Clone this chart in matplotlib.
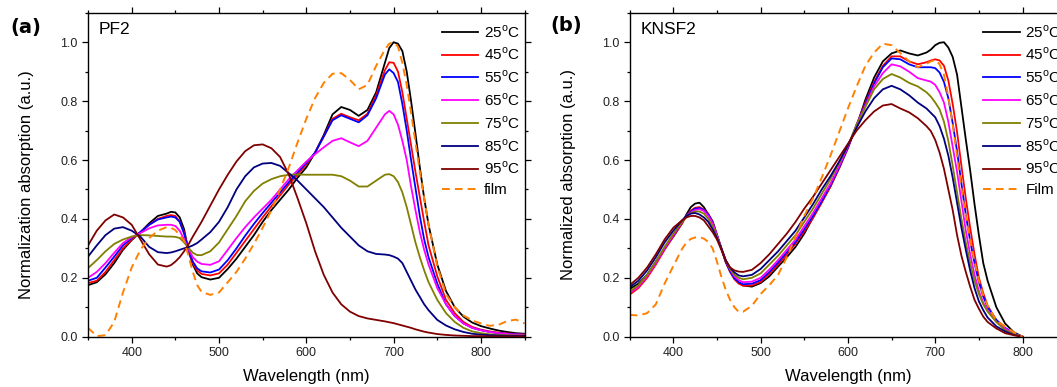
import numpy as np
import matplotlib
matplotlib.use("Agg")
import matplotlib.pyplot as plt
from matplotlib.ticker import MultipleLocator, FormatStrFormatter

plt.rcParams['font.family'] = ['Liberation Sans', 'DejaVu Sans']
plt.rcParams['mathtext.fontset'] = 'custom'
plt.rcParams['mathtext.rm'] = 'Liberation Sans'

# ---- data (finer steps around the sharp features) ----
wl_pf2 = [350, 360, 370, 380, 390, 400, 410, 420, 430, 440,
          445, 450, 455, 460, 465, 470, 475, 480,
          490, 500, 510, 520, 530, 540, 550, 560, 570, 580, 590, 600,
          610, 620, 630, 640, 650, 660, 670, 680, 690,
          695, 700, 705, 710, 715, 720, 725, 730, 735, 740,
          750, 760, 770, 780, 790, 800, 810, 820, 830, 840, 850]

wl_knsf2 = [350, 360, 370, 380, 390, 400, 410,
            415, 420, 425, 430, 435, 440, 445, 450, 455, 460, 465, 470, 475, 480,
            490, 500, 510, 520, 530, 540, 550, 560, 570, 580, 590, 600,
            610, 620, 630, 640, 650, 660, 670, 680, 690,
            695, 700, 705, 710, 715, 720, 725, 730, 735, 740, 745, 750, 755,
            760, 770, 780, 790, 800]

temps = ['25', '45', '55', '65', '75', '85', '95']

pf2_25 = [0.175, 0.185, 0.212, 0.25, 0.295, 0.328, 0.355, 0.385, 0.41, 0.418,
          0.424, 0.422, 0.405, 0.365, 0.292, 0.245, 0.215, 0.202,
          0.194, 0.2, 0.23, 0.265, 0.305, 0.345, 0.39, 0.43, 0.465, 0.5, 0.54, 0.575,
          0.625, 0.685, 0.755, 0.78, 0.77, 0.75, 0.77, 0.83, 0.93,
          0.98, 1.0, 0.995, 0.97, 0.9, 0.8, 0.69, 0.575, 0.47, 0.38,
          0.245, 0.155, 0.1, 0.068, 0.048, 0.036, 0.028, 0.021, 0.016, 0.012, 0.01]
pf2_45 = [0.182, 0.19, 0.22, 0.26, 0.3, 0.33, 0.355, 0.38, 0.4, 0.41,
          0.413, 0.41, 0.39, 0.355, 0.295, 0.25, 0.225, 0.213,
          0.208, 0.215, 0.245, 0.285, 0.325, 0.365, 0.405, 0.443, 0.48, 0.517, 0.55, 0.585,
          0.625, 0.68, 0.74, 0.757, 0.745, 0.735, 0.757, 0.82, 0.905,
          0.932, 0.93, 0.9, 0.83, 0.74, 0.65, 0.56, 0.475, 0.39, 0.31,
          0.205, 0.125, 0.08, 0.05, 0.033, 0.024, 0.018, 0.014, 0.011, 0.009, 0.008]
pf2_55 = [0.19, 0.2, 0.235, 0.272, 0.31, 0.335, 0.355, 0.38, 0.398, 0.405,
          0.408, 0.405, 0.39, 0.35, 0.296, 0.255, 0.232, 0.222,
          0.218, 0.228, 0.26, 0.3, 0.343, 0.383, 0.42, 0.455, 0.49, 0.525, 0.558, 0.59,
          0.625, 0.68, 0.735, 0.752, 0.74, 0.728, 0.752, 0.81, 0.89,
          0.908, 0.895, 0.865, 0.79, 0.7, 0.6, 0.505, 0.41, 0.33, 0.27,
          0.18, 0.11, 0.07, 0.045, 0.03, 0.022, 0.016, 0.012, 0.01, 0.008, 0.007]
pf2_65 = [0.2, 0.22, 0.25, 0.285, 0.318, 0.338, 0.352, 0.368, 0.378, 0.38,
          0.38, 0.376, 0.36, 0.33, 0.298, 0.27, 0.255, 0.247,
          0.244, 0.256, 0.295, 0.335, 0.372, 0.405, 0.435, 0.465, 0.5, 0.535, 0.565, 0.595,
          0.62, 0.643, 0.665, 0.674, 0.66, 0.647, 0.665, 0.71, 0.755,
          0.767, 0.755, 0.72, 0.665, 0.6, 0.51, 0.43, 0.355, 0.295, 0.245,
          0.165, 0.11, 0.07, 0.045, 0.03, 0.022, 0.016, 0.012, 0.009, 0.007, 0.006]
pf2_75 = [0.233, 0.26, 0.29, 0.315, 0.33, 0.34, 0.345, 0.344, 0.342, 0.34,
          0.34, 0.339, 0.335, 0.32, 0.302, 0.285, 0.277, 0.277,
          0.29, 0.32, 0.365, 0.41, 0.46, 0.495, 0.52, 0.535, 0.545, 0.55, 0.551, 0.55,
          0.55, 0.55, 0.55, 0.545, 0.53, 0.51, 0.51, 0.53, 0.55,
          0.552, 0.545, 0.525, 0.49, 0.44, 0.38, 0.32, 0.27, 0.225, 0.185,
          0.125, 0.08, 0.05, 0.03, 0.018, 0.012, 0.008, 0.006, 0.005, 0.004, 0.004]
pf2_85 = [0.272, 0.31, 0.345, 0.367, 0.372, 0.36, 0.34, 0.305, 0.287, 0.284,
          0.286, 0.29, 0.295, 0.3, 0.304, 0.31, 0.318, 0.33,
          0.355, 0.39, 0.44, 0.5, 0.545, 0.575, 0.588, 0.59, 0.58, 0.555, 0.53, 0.5,
          0.47, 0.44, 0.405, 0.37, 0.34, 0.31, 0.29, 0.281, 0.279,
          0.277, 0.272, 0.265, 0.25, 0.22, 0.19, 0.16, 0.135, 0.11, 0.09,
          0.057, 0.038, 0.025, 0.016, 0.01, 0.007, 0.005, 0.004, 0.003, 0.003, 0.003]
pf2_95 = [0.31, 0.36, 0.395, 0.415, 0.405, 0.38, 0.33, 0.28, 0.245, 0.238,
          0.243, 0.255, 0.27, 0.29, 0.313, 0.34, 0.365, 0.39,
          0.445, 0.5, 0.55, 0.595, 0.63, 0.65, 0.653, 0.64, 0.61, 0.55, 0.47, 0.385,
          0.29, 0.21, 0.15, 0.11, 0.085, 0.07, 0.062, 0.057, 0.052,
          0.049, 0.046, 0.042, 0.038, 0.034, 0.03, 0.025, 0.021, 0.017, 0.014,
          0.009, 0.006, 0.004, 0.003, 0.002, 0.002, 0.001, 0.001, 0.001, 0.001, 0.001]
pf2_film = [0.03, 0.002, 0.005, 0.05, 0.15, 0.235, 0.295, 0.335, 0.36, 0.372,
            0.37, 0.362, 0.345, 0.325, 0.275, 0.22, 0.175, 0.152,
            0.142, 0.15, 0.185, 0.22, 0.265, 0.315, 0.37, 0.43, 0.5, 0.575, 0.66, 0.74,
            0.81, 0.862, 0.893, 0.895, 0.872, 0.84, 0.855, 0.92, 0.975,
            0.995, 1.0, 0.985, 0.93, 0.855, 0.76, 0.66, 0.56, 0.47, 0.38,
            0.24, 0.145, 0.1, 0.072, 0.055, 0.045, 0.037, 0.04, 0.053, 0.058, 0.045]

knsf2_25 = [0.162, 0.18, 0.21, 0.255, 0.3, 0.34, 0.385,
            0.415, 0.44, 0.452, 0.455, 0.44, 0.415, 0.392, 0.345, 0.3, 0.255, 0.225, 0.2, 0.183, 0.174,
            0.17, 0.182, 0.205, 0.238, 0.27, 0.305, 0.35, 0.405, 0.458, 0.51, 0.575, 0.645,
            0.715, 0.805, 0.88, 0.935, 0.962, 0.972, 0.962, 0.955, 0.965,
            0.975, 0.99, 0.998, 1.0, 0.982, 0.95, 0.89, 0.78, 0.67, 0.565, 0.45, 0.345, 0.25,
            0.19, 0.1, 0.045, 0.015, 0.0]
knsf2_45 = [0.143, 0.165, 0.2, 0.245, 0.295, 0.34, 0.385,
            0.41, 0.428, 0.438, 0.44, 0.432, 0.418, 0.39, 0.345, 0.3, 0.253, 0.22, 0.195, 0.18, 0.173,
            0.174, 0.186, 0.213, 0.245, 0.28, 0.316, 0.358, 0.403, 0.455, 0.51, 0.572, 0.64,
            0.72, 0.795, 0.865, 0.92, 0.952, 0.952, 0.935, 0.925, 0.932,
            0.938, 0.942, 0.938, 0.92, 0.87, 0.79, 0.695, 0.58, 0.47, 0.37, 0.28, 0.2, 0.148,
            0.105, 0.055, 0.028, 0.01, 0.0]
knsf2_55 = [0.15, 0.172, 0.208, 0.252, 0.3, 0.345, 0.39,
            0.41, 0.425, 0.435, 0.437, 0.43, 0.415, 0.388, 0.345, 0.3, 0.255, 0.222, 0.198, 0.185, 0.178,
            0.18, 0.192, 0.22, 0.252, 0.287, 0.322, 0.365, 0.41, 0.46, 0.515, 0.575, 0.642,
            0.72, 0.79, 0.86, 0.915, 0.945, 0.942, 0.925, 0.915, 0.915,
            0.915, 0.912, 0.897, 0.865, 0.81, 0.725, 0.63, 0.52, 0.415, 0.325, 0.25, 0.185, 0.136,
            0.1, 0.057, 0.03, 0.012, 0.0]
knsf2_65 = [0.148, 0.17, 0.205, 0.25, 0.3, 0.345, 0.39,
            0.41, 0.422, 0.43, 0.433, 0.427, 0.41, 0.385, 0.345, 0.3, 0.26, 0.228, 0.205, 0.192, 0.185,
            0.187, 0.2, 0.228, 0.26, 0.295, 0.33, 0.375, 0.42, 0.47, 0.52, 0.58, 0.645,
            0.72, 0.785, 0.85, 0.895, 0.925, 0.918, 0.9, 0.878, 0.87,
            0.866, 0.855, 0.83, 0.795, 0.73, 0.645, 0.56, 0.46, 0.36, 0.28, 0.21, 0.155, 0.115,
            0.09, 0.05, 0.028, 0.01, 0.0]
knsf2_75 = [0.153, 0.175, 0.21, 0.255, 0.305, 0.35, 0.39,
            0.407, 0.42, 0.425, 0.425, 0.418, 0.4, 0.375, 0.34, 0.3, 0.26, 0.23, 0.21, 0.2, 0.195,
            0.2, 0.215, 0.245, 0.275, 0.31, 0.345, 0.39, 0.435, 0.485, 0.535, 0.59, 0.65,
            0.72, 0.78, 0.84, 0.875, 0.892, 0.88, 0.862, 0.85, 0.83,
            0.815, 0.795, 0.772, 0.73, 0.665, 0.58, 0.49, 0.4, 0.32, 0.25, 0.19, 0.145, 0.11,
            0.085, 0.05, 0.022, 0.01, 0.0]
knsf2_85 = [0.168, 0.19, 0.225, 0.27, 0.32, 0.36, 0.395,
            0.41, 0.418, 0.42, 0.415, 0.405, 0.39, 0.365, 0.335, 0.3, 0.26, 0.235, 0.218, 0.208, 0.205,
            0.21, 0.23, 0.26, 0.29, 0.325, 0.36, 0.405, 0.45, 0.5, 0.545, 0.595, 0.65,
            0.71, 0.765, 0.81, 0.84, 0.852, 0.84, 0.82, 0.795, 0.775,
            0.76, 0.745, 0.715, 0.672, 0.615, 0.54, 0.455, 0.37, 0.295, 0.225, 0.165, 0.12, 0.09,
            0.065, 0.035, 0.018, 0.006, 0.0]
knsf2_95 = [0.175, 0.2, 0.235, 0.28, 0.33, 0.37, 0.395,
            0.405, 0.41, 0.41, 0.405, 0.395, 0.375, 0.355, 0.33, 0.295, 0.258, 0.235, 0.225, 0.221, 0.22,
            0.227, 0.25, 0.28, 0.315, 0.35, 0.39, 0.435, 0.475, 0.52, 0.565, 0.61, 0.655,
            0.7, 0.735, 0.765, 0.785, 0.79, 0.775, 0.762, 0.742, 0.715,
            0.698, 0.668, 0.625, 0.57, 0.5, 0.43, 0.345, 0.275, 0.22, 0.17, 0.125, 0.095, 0.068,
            0.05, 0.028, 0.012, 0.005, 0.0]
knsf2_film = [0.074, 0.072, 0.08, 0.11, 0.18, 0.24, 0.298,
              0.32, 0.332, 0.337, 0.338, 0.333, 0.322, 0.3, 0.255, 0.204, 0.16, 0.125, 0.1, 0.084, 0.085,
              0.105, 0.145, 0.175, 0.21, 0.27, 0.34, 0.41, 0.47, 0.54, 0.615, 0.695, 0.775,
              0.85, 0.92, 0.965, 0.995, 0.99, 0.963, 0.935, 0.915, 0.927,
              0.935, 0.94, 0.925, 0.89, 0.815, 0.72, 0.615, 0.505, 0.41, 0.325, 0.255, 0.19, 0.14,
              0.105, 0.055, 0.035, 0.015, 0.0]

colors = ['#000000', '#ff0000', '#0000ff', '#ff00ff', '#808000', '#000080', '#800000']
film_color = '#ff8000'


def style_axes(ax, ylabel, label_y):
    ax.set_xlim(350, 850)
    ax.set_ylim(0, 1.1)
    ax.xaxis.set_major_locator(MultipleLocator(100))
    ax.xaxis.set_minor_locator(MultipleLocator(50))
    ax.yaxis.set_major_locator(MultipleLocator(0.2))
    ax.yaxis.set_minor_locator(MultipleLocator(0.1))
    ax.yaxis.set_major_formatter(FormatStrFormatter('%.1f'))
    ax.tick_params(which='both', direction='out', top=True, right=True,
                   labeltop=False, labelright=False, width=0.9,
                   labelsize=9, labelcolor='#222222', pad=3)
    ax.tick_params(which='major', length=4.3)
    ax.tick_params(which='minor', length=2.4)
    for sp in ax.spines.values():
        sp.set_linewidth(1.0)
    ax.set_xlabel('Wavelength (nm)', fontsize=12, labelpad=7)
    ax.set_ylabel(ylabel, fontsize=12)
    ax.yaxis.set_label_coords(-0.123, label_y)


def draw_panel(ax, wl, series, film, film_label, name):
    for s, t, c in zip(series, temps, colors):
        ax.plot(wl, s, color=c, lw=1.3, label=t + r'$^\mathregular{o}$C')
    ax.plot(wl, film, color=film_color, lw=1.4, ls=(0, (4, 2.6)), label=film_label)
    ax.text(0.024, 0.934, name, transform=ax.transAxes, fontsize=12.5, va='baseline')
    ax.legend(loc='upper left', bbox_to_anchor=(0.81, 0.967), frameon=False,
              fontsize=11, handlelength=2.4, handletextpad=0.35,
              labelspacing=0.4, borderpad=0, borderaxespad=0)


fig = plt.figure(figsize=(10.57, 3.87), dpi=100)
ax1 = fig.add_axes([0.0833, 0.13, 0.413, 0.837])
ax2 = fig.add_axes([0.5957, 0.13, 0.413, 0.837])

draw_panel(ax1, wl_pf2, [pf2_25, pf2_45, pf2_55, pf2_65, pf2_75, pf2_85, pf2_95],
           pf2_film, 'film', 'PF2')
style_axes(ax1, 'Normalization absorption (a.u.)', 0.468)

draw_panel(ax2, wl_knsf2, [knsf2_25, knsf2_45, knsf2_55, knsf2_65, knsf2_75, knsf2_85, knsf2_95],
           knsf2_film, 'Film', 'KNSF2')
style_axes(ax2, 'Normalized absorption (a.u.)', 0.5)

fig.text(10 / 1057, 1 - 28 / 387, '(a)', fontsize=14, fontweight='bold',
         family='DejaVu Sans', va='center', ha='left')
fig.text(550 / 1057, 1 - 25 / 387, '(b)', fontsize=14, fontweight='bold',
         family='DejaVu Sans', va='center', ha='left')

fig.savefig('out.png', dpi=100)
